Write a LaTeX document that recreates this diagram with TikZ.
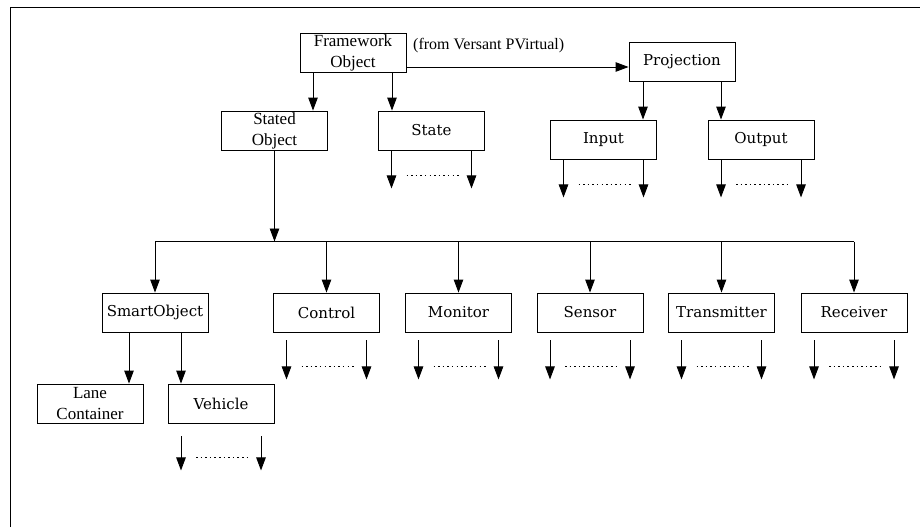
\documentclass[tikz,border=0pt]{standalone}
\usepackage{fontspec}
\setmainfont{Liberation Serif}
\newfontfamily\labelfont{DejaVu Serif}
\usetikzlibrary{arrows.meta,calc}

\tikzset{
  box/.style={draw, line width=0.9pt, minimum width=106pt, minimum height=39pt,
    inner sep=0pt, font=\labelfont\fontsize{15}{18}\selectfont},
  twoline/.style={box, align=center, font=\fontsize{17}{21}\selectfont},
  arr/.style={line width=0.9pt, -{Triangle[length=13pt,width=9.5pt]}},
  bus/.style={line width=0.9pt},
  dots/.style={line width=1.7pt, dash pattern=on 1.5pt off 3.1pt},
  frame/.style={line width=1.3pt},
  note/.style={font=\fontsize{16}{19}\selectfont, inner sep=0pt}
}

\begin{document}
\begin{tikzpicture}[x=1pt,y=-1pt]
\useasboundingbox (0,0) rectangle (920,527);

% page frame (top and left edges)
\coordinate (fbl) at (10.5,527);
\coordinate (ftl) at (10.5,7.5);
\coordinate (ftr) at (920,7.5);
\draw[frame] (fbl) -- (ftl) -- (ftr);

% framework classes
\node[twoline] (fw) at (353,52.5) {Framework\\Object};
\node[twoline] (stated) at (274.5,130.5) {Stated\\Object};
\node[box] (state) at (431.5,130.5) {State};
\node[note, anchor=west] (from) at (413,46) {(from Versant PVirtual)};

% projection classes
\node[box] (proj) at (682,61.5) {Projection};
\node[box] (input) at (603.5,139.5) {Input};
\node[box] (output) at (761,139.5) {Output};

% stated object subclasses
\node[box] (smart) at (155,312.5) {SmartObject};
\node[box] (control) at (326.5,312.5) {Control};
\node[box] (monitor) at (458.5,312.5) {Monitor};
\node[box] (sensor) at (590,312.5) {Sensor};
\node[box] (trans) at (721.5,312.5) {Transmitter};
\node[box] (recv) at (854,312.5) {Receiver};

% smart object subclasses
\node[twoline] (lane) at (90,403.5) {Lane\\Container};
\node[box] (vehicle) at (221,403.5) {Vehicle};

% inheritance arrows from the framework object
\draw[arr] ([xshift=-40pt]fw.south) coordinate (fwa) -- (fwa |- stated.north);
\draw[arr] ([xshift=39pt]fw.south) coordinate (fwb) -- (fwb |- state.north);
\draw[arr] ([yshift=-14.5pt]fw.east) coordinate (fwc) -- (fwc -| proj.west);

% projection to input / output
\draw[arr] ([xshift=-39pt]proj.south) coordinate (pa) -- (pa |- input.north);
\draw[arr] ([xshift=39pt]proj.south) coordinate (pb) -- (pb |- output.north);

% stated object to the bus of subclasses
\coordinate (bus) at (274.5,241.5);
\draw[arr] (stated.south) -- (bus);
\draw[bus] (smart.north |- bus) -- (recv.north |- bus);
\foreach \n in {smart,control,monitor,sensor,trans,recv}
  \draw[arr] (\n.north |- bus) -- (\n.north);

% smart object to lane container / vehicle
\draw[arr] ([xshift=-26pt]smart.south) coordinate (sa) -- (sa |- lane.north);
\draw[arr] ([xshift=26pt]smart.south) coordinate (sb) -- (sb |- vehicle.north);

% further subclasses, elided
\foreach \n/\a/\b in {state/0/38,input/0/38,output/0/38,
                      control/8/47,monitor/8/47,sensor/8/47,trans/8/47,recv/8/47,
                      vehicle/13/47}{
  \coordinate (\n-la) at ($(\n.south)+(-40,\a)$);
  \coordinate (\n-lb) at ($(\n.south)+(-40,\b)$);
  \coordinate (\n-ra) at ($(\n.south)+(40,\a)$);
  \coordinate (\n-rb) at ($(\n.south)+(40,\b)$);
  \coordinate (\n-da) at ($(\n.south)+(-25,\b-13)$);
  \coordinate (\n-db) at ($(\n.south)+(29,\b-13)$);
  \draw[arr] (\n-la) -- (\n-lb);
  \draw[arr] (\n-ra) -- (\n-rb);
  \draw[dots] (\n-da) -- (\n-db);
}
\end{tikzpicture}
\end{document}
